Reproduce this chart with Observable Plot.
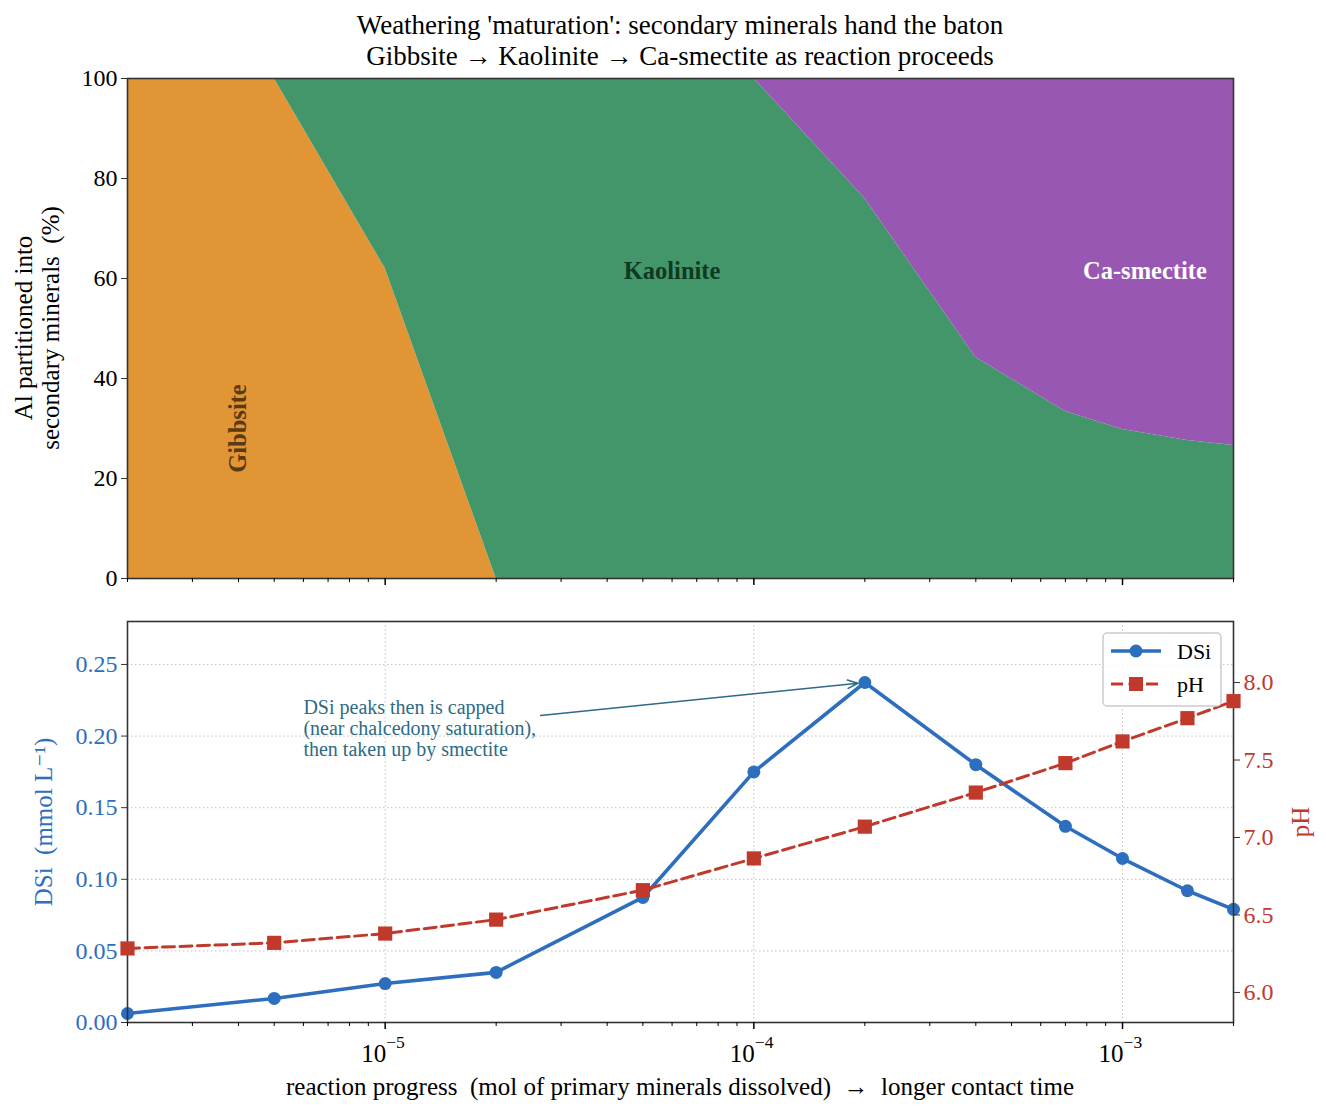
<!DOCTYPE html>
<html>
<head>
<meta charset="utf-8">
<script src="https://cdn.jsdelivr.net/npm/d3@7"></script>
<script src="https://cdn.jsdelivr.net/npm/@observablehq/plot@0.6"></script>
<style>
  html, body { margin: 0; padding: 0; background: #fff; }
  #wrap { position: relative; width: 1326px; height: 1116px; font-family: "Liberation Serif", "DejaVu Serif", serif; color: #000; overflow: hidden; }
  #wrap svg { position: absolute; left: 0; top: 0; }
  .lbl { position: absolute; white-space: pre; line-height: 1.15; text-align: center; }
</style>
</head>
<body>
<div id="wrap"></div>
<script>
// ---------------- data ----------------
const progress   = [2e-6, 5e-6, 1e-5, 2e-5, 5e-5, 1e-4, 2e-4, 4e-4, 7e-4, 1e-3, 1.5e-3, 2e-3];
const gibbsite   = [100, 100, 62, 0, 0, 0, 0, 0, 0, 0, 0, 0];
const kaolinite  = [0, 0, 38, 100, 100, 100, 76, 44.2, 33.4, 29.8, 27.6, 26.6];
const smectite   = [0, 0, 0, 0, 0, 0, 24, 55.8, 66.6, 70.2, 72.4, 73.4];
const dsi        = [0.0063, 0.0168, 0.0272, 0.035, 0.0873, 0.175, 0.2374, 0.180, 0.137, 0.1145, 0.092, 0.079];
const ph         = [6.284, 6.32, 6.38, 6.47, 6.66, 6.865, 7.07, 7.29, 7.48, 7.62, 7.77, 7.88];

const minerals      = ["Gibbsite", "Kaolinite", "Ca-smectite"];
const mineralColors = ["#e29535", "#43966a", "#9857b3"];
const areaLabels = [
  {x: 4e-6,   y: 30, text: "Gibbsite",    color: "#5a3a10", rotate: -90},
  {x: 6e-5,   y: 61.5, text: "Kaolinite", color: "#0f3a22", rotate: 0},
  {x: 1.15e-3, y: 61.5, text: "Ca-smectite", color: "#ffffff", rotate: 0}
];
const pctTicks = [0, 20, 40, 60, 80, 100];
const dsiTicks = [0, 0.05, 0.10, 0.15, 0.20, 0.25];
const phTicks  = [6.0, 6.5, 7.0, 7.5, 8.0];
const majorX   = [1e-5, 1e-4, 1e-3];
const majorXBase = "10";
const majorXExponents = ["\u22125", "\u22124", "\u22123"];
const annotation = {text: "DSi peaks then is capped\n(near chalcedony saturation),\nthen taken up by smectite",
                    tx: 6e-6, ty: 0.2053, ax: 2.64e-5, ay: 0.2144, px: 2e-4, py: 0.2374};

const titleLines = ["Weathering 'maturation': secondary minerals hand the baton",
                    "Gibbsite \u2192 Kaolinite \u2192 Ca-smectite as reaction proceeds"];

// ---------------- layout ----------------
const W = 1326, H = 1116;
const L = 127, R = W - 1233;
const topY0 = 78, topY1 = 578, botY0 = 621, botY1 = 1022;
const xDomain = [2e-6, 2e-3];
const blue = "#2d6ebe", red = "#c0392b", teal = "#2c6b86";
const font = "Liberation Serif";
const tickFont = 24;
const minorX = d3.scaleLog().domain(xDomain).ticks().filter(v => !majorX.some(m => Math.abs(m - v) / m < 1e-9));
const majorXTicks = majorX.map((v, i) => ({x: v, base: majorXBase, exp: majorXExponents[i]}));

const wrap = document.getElementById("wrap");

// long-format table for stacked area
const areaData = [];
minerals.forEach((m, k) => {
  const vals = [gibbsite, kaolinite, smectite][k];
  progress.forEach((p, i) => areaData.push({x: p, pct: vals[i], mineral: m}));
});
const table = progress.map((p, i) => ({x: p, dsi: dsi[i], ph: ph[i]}));

// ---------------- top panel ----------------
const topPanel = Plot.plot({
  width: W, height: H,
  marginLeft: L, marginRight: R, marginTop: topY0, marginBottom: H - topY1,
  style: {fontFamily: font, fontSize: "20px", background: "transparent", overflow: "visible"},
  x: {type: "log", domain: xDomain, axis: null},
  y: {domain: [0, 100], axis: null},
  color: {domain: minerals, range: mineralColors},
  marks: [
    Plot.areaY(areaData, {x: "x", y: "pct", fill: "mineral", z: "mineral", curve: "linear"}),
    Plot.text(areaLabels, {x: "x", y: "y", text: "text", fill: d => d.color, rotate: "rotate",
                           fontWeight: "bold", fontSize: 24.5}),
    Plot.frame({stroke: "#333", strokeWidth: 1.6}),
    Plot.axisY({ticks: pctTicks, tickSize: 6, tickPadding: 4, fontSize: tickFont, label: null, stroke: "#333"}),
    Plot.axisX({ticks: majorX, tickSize: 7, tickFormat: () => "", label: null, strokeWidth: 1.5}),
    Plot.axisX({ticks: minorX, tickSize: 4, tickFormat: () => "", label: null})
  ]
});
wrap.appendChild(topPanel);

// ---------------- bottom panel (DSi, left axis) ----------------
const botLeft = Plot.plot({
  width: W, height: H,
  marginLeft: L, marginRight: R, marginTop: botY0, marginBottom: H - botY1,
  style: {fontFamily: font, fontSize: "20px", background: "transparent", overflow: "visible"},
  x: {type: "log", domain: xDomain, axis: null},
  y: {domain: [0, 0.28], axis: null},
  marks: [
    Plot.gridY(dsiTicks, {stroke: "#999", strokeOpacity: 0.6, strokeDasharray: "1.5,2.5"}),
    Plot.gridX(majorX, {stroke: "#999", strokeOpacity: 0.6, strokeDasharray: "1.5,2.5"}),
    Plot.line(table, {x: "x", y: "dsi", stroke: blue, strokeWidth: 3.6}),
    Plot.dot(table, {x: "x", y: "dsi", fill: blue, r: 6.5, stroke: null}),
    Plot.text([annotation], {x: "tx", y: "ty", text: "text", textAnchor: "start", lineAnchor: "middle",
                             fill: teal, fontSize: 20, lineHeight: 1.05}),
    Plot.arrow([annotation], {x1: "ax", y1: "ay", x2: "px", y2: "py", stroke: teal, strokeWidth: 1.5,
                              insetEnd: 7, headLength: 11, headAngle: 45}),
    Plot.frame({stroke: "#333", strokeWidth: 1.6}),
    Plot.axisY({ticks: dsiTicks, tickFormat: d3.format(".2f"), tickSize: 6, tickPadding: 4,
                fontSize: tickFont, color: blue, stroke: "#333", label: null}),
    Plot.axisX({ticks: majorX, tickSize: 7, tickFormat: () => "", label: null, strokeWidth: 1.5}),
    Plot.axisX({ticks: minorX, tickSize: 4, tickFormat: () => "", label: null}),
    // log tick labels 10^n : base and raised exponent
    Plot.text(majorXTicks, {x: "x", frameAnchor: "bottom", text: "base", textAnchor: "end", lineAnchor: "middle",
                            dx: 1, dy: 31, fontSize: 25, fill: "#000"}),
    Plot.text(majorXTicks, {x: "x", frameAnchor: "bottom", text: "exp", textAnchor: "start", lineAnchor: "middle",
                            dx: 1, dy: 20, fontSize: 17.5, fill: "#000"})
  ]
});
wrap.appendChild(botLeft);

// ---------------- bottom panel (pH, right axis) ----------------
const botRight = Plot.plot({
  width: W, height: H,
  marginLeft: L, marginRight: R, marginTop: botY0, marginBottom: H - botY1,
  style: {fontFamily: font, fontSize: "20px", background: "transparent", overflow: "visible"},
  x: {type: "log", domain: xDomain, axis: null},
  y: {domain: [5.806, 8.394], axis: null},
  marks: [
    Plot.line(table, {x: "x", y: "ph", stroke: red, strokeWidth: 3, strokeDasharray: "12,5.5"}),
    Plot.dot(table, {x: "x", y: "ph", fill: red, symbol: "square", r: 8, stroke: null}),
    Plot.axisY({anchor: "right", ticks: phTicks, tickFormat: d3.format(".1f"), tickSize: 6, tickPadding: 4,
                fontSize: tickFont, color: red, stroke: "#333", label: null})
  ]
});
wrap.appendChild(botRight);

// ---------------- legend (drawn from the series styles) ----------------
const legendItems = [
  {name: "DSi", color: blue, dash: null, symbol: "circle"},
  {name: "pH",  color: red,  dash: "12,5.5", symbol: "square"}
];
const ns = "http://www.w3.org/2000/svg";
const leg = document.createElementNS(ns, "svg");
leg.setAttribute("width", W); leg.setAttribute("height", H);
leg.style.pointerEvents = "none";
const lx = 1103, ly = 633, lw = 118, lh = 73;
const box = document.createElementNS(ns, "rect");
Object.entries({x: lx, y: ly, width: lw, height: lh, rx: 4, fill: "white", "fill-opacity": 0.85,
                stroke: "#cccccc", "stroke-width": 1.5}).forEach(([k, v]) => box.setAttribute(k, v));
leg.appendChild(box);
legendItems.forEach((it, i) => {
  const yy = ly + 18 + i * 33;
  const ln = document.createElementNS(ns, "line");
  Object.entries({x1: lx + 8, x2: lx + 58, y1: yy, y2: yy, stroke: it.color, "stroke-width": it.dash ? 3 : 3.6})
    .forEach(([k, v]) => ln.setAttribute(k, v));
  if (it.dash) ln.setAttribute("stroke-dasharray", it.dash);
  leg.appendChild(ln);
  let mk;
  if (it.symbol === "circle") {
    mk = document.createElementNS(ns, "circle");
    Object.entries({cx: lx + 33, cy: yy, r: 6.5, fill: it.color}).forEach(([k, v]) => mk.setAttribute(k, v));
  } else {
    mk = document.createElementNS(ns, "rect");
    Object.entries({x: lx + 26, y: yy - 7, width: 14, height: 14, fill: it.color}).forEach(([k, v]) => mk.setAttribute(k, v));
  }
  leg.appendChild(mk);
  const t = document.createElementNS(ns, "text");
  Object.entries({x: lx + 74, y: yy, "dominant-baseline": "central", "font-family": font, "font-size": 22, fill: "#000"})
    .forEach(([k, v]) => t.setAttribute(k, v));
  t.textContent = it.name;
  leg.appendChild(t);
});
wrap.appendChild(leg);

// ---------------- titles and axis labels ----------------
function label(text, cx, cy, opts = {}) {
  const d = document.createElement("div");
  d.className = "lbl";
  d.textContent = text;
  d.style.left = cx + "px";
  d.style.top = cy + "px";
  d.style.fontSize = (opts.size || 25) + "px";
  d.style.color = opts.color || "#000";
  d.style.transform = "translate(-50%, -50%)" + (opts.rotate ? ` rotate(${opts.rotate}deg)` : "");
  if (opts.lh) d.style.lineHeight = opts.lh;
  wrap.appendChild(d);
}
label(titleLines.join("\n"), (L + 1233) / 2, 41, {size: 27, lh: "31px"});
label("Al partitioned into\nsecondary minerals  (%)", 37, (topY0 + topY1) / 2, {size: 25, rotate: -90, lh: "27px"});
label("DSi  (mmol L\u207B\u00B9)", 44, (botY0 + botY1) / 2, {size: 25, rotate: -90, color: blue});
label("pH", 1301, (botY0 + botY1) / 2, {size: 25, rotate: -90, color: red});
label("reaction progress  (mol of primary minerals dissolved)  \u2192  longer contact time", (L + 1233) / 2, 1087, {size: 25});
</script>
</body>
</html>
